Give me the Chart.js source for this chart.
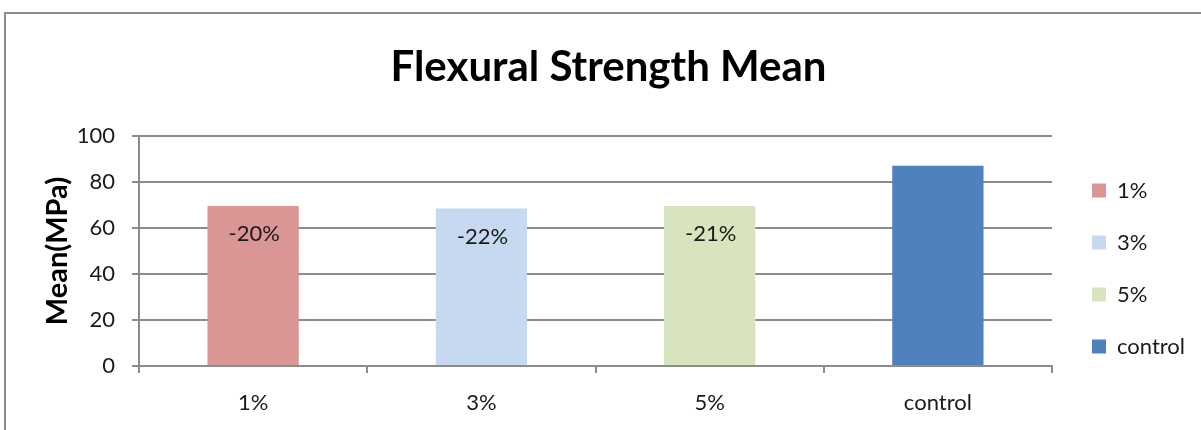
<!DOCTYPE html>
<html>
<head>
<meta charset="utf-8">
<script src="https://cdn.jsdelivr.net/npm/chart.js@4.4.1/dist/chart.umd.min.js"></script>
<style>
  html, body { margin: 0; padding: 0; background: #ffffff; overflow: hidden; }
  #wrap { position: relative; width: 1201px; height: 430px; }
  #frame { position: absolute; left: 4px; top: 12px; width: 1400px; height: 600px;
           border-top: 2px solid #8a8a8a; border-left: 2px solid #8a8a8a; }
  #c { position: absolute; left: 0; top: 0; }
</style>
</head>
<body>
<div id="wrap">
  <div id="frame"></div>
  <canvas id="c" width="1201" height="430"></canvas>
</div>
<script>
// ---- data ----
const CATEGORIES = ['1%', '3%', '5%', 'control'];
const MEAN_MPA = [69.6, 68.5, 69.6, 87.1];
const CHANGE_LABELS = ['-20%', '-22%', '-21%', ''];
const BAR_COLORS = ['#D99694', '#C6D9F1', '#D7E4BD', '#4F81BD'];
const Y_TICKS = [0, 20, 40, 60, 80, 100];
const TITLE = 'Flexural Strength Mean';
const Y_TITLE = 'Mean(MPa)';

const FONT = 'Lato, "Open Sans", sans-serif';
const GRID = '#8c8c8c';
const TEXT = '#1a1a1a';

const barLabels = {
  id: 'barLabels',
  afterDatasetsDraw(chart) {
    const ctx = chart.ctx;
    const meta = chart.getDatasetMeta(0);
    ctx.save();
    ctx.font = '22px ' + FONT;
    ctx.fillStyle = TEXT;
    ctx.textAlign = 'center';
    ctx.textBaseline = 'middle';
    meta.data.forEach((bar, i) => {
      if (!CHANGE_LABELS[i]) return;
      ctx.fillText(CHANGE_LABELS[i], bar.x + 1, bar.y + 28);
    });
    ctx.restore();
  }
};

const legendShift = {
  id: 'legendShift',
  afterLayout(chart) {
    const l = chart.legend;
    if (l) { l.left += 10; l.right += 10; l.top += 35; l.bottom += 35; }
  }
};

new Chart(document.getElementById('c'), {
  type: 'bar',
  data: {
    labels: CATEGORIES,
    datasets: [{
      label: 'Mean',
      data: MEAN_MPA,
      backgroundColor: BAR_COLORS,
      borderWidth: 0,
      barPercentage: 0.4,
      categoryPercentage: 1.0
    }]
  },
  options: {
    responsive: false,
    animation: false,
    layout: { padding: { left: 40, right: 24, top: 0, bottom: 0 } },
    plugins: {
      tooltip: { enabled: false },
      title: {
        display: true,
        text: TITLE,
        color: '#000000',
        font: { family: FONT, size: 42, weight: 'bold', lineHeight: 1.2 },
        padding: { top: 42, bottom: 43.6 }
      },
      legend: {
        display: true,
        position: 'right',
        align: 'center',
        maxWidth: 125,
        title: { display: true, text: ' ', font: { size: 10, lineHeight: 1.2 }, padding: 12.5 },
        labels: {
          boxWidth: 14,
          boxHeight: 14,
          padding: 30,
          color: TEXT,
          font: { family: FONT, size: 22 },
          generateLabels: () => CATEGORIES.map((c, i) => ({
            text: c,
            fillStyle: BAR_COLORS[i],
            strokeStyle: BAR_COLORS[i],
            lineWidth: 0,
            hidden: false,
            index: i,
            fontColor: TEXT
          }))
        }
      }
    },
    scales: {
      x: {
        grid: { drawOnChartArea: false, drawTicks: true, tickLength: 7, color: GRID, lineWidth: 2, offset: true },
        border: { display: true, color: GRID, width: 2 },
        ticks: { color: TEXT, font: { family: FONT, size: 22 }, padding: 17, maxRotation: 0 },
        afterFit: (s) => { s.height = 64; }
      },
      y: {
        min: 0,
        max: 100,
        afterBuildTicks: (s) => { s.ticks = Y_TICKS.map(v => ({ value: v })); },
        grid: { color: GRID, lineWidth: 2, tickLength: 7 },
        border: { display: true, color: GRID, width: 2 },
        ticks: { color: TEXT, font: { family: FONT, size: 22 }, padding: 17 },
        title: {
          display: true,
          text: Y_TITLE,
          color: '#000000',
          font: { family: FONT, size: 29, weight: 'bold', lineHeight: 1 },
          padding: { top: 3, bottom: 0 }
        },
        afterFit: (s) => { s.width = 99; }
      }
    }
  },
  plugins: [barLabels, legendShift]
});
</script>
</body>
</html>
